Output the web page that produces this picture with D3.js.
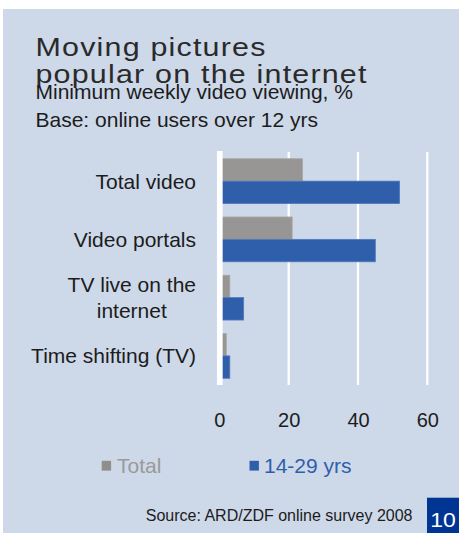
<!DOCTYPE html>
<html>
<head>
<meta charset="utf-8">
<script src="https://cdn.jsdelivr.net/npm/d3@7"></script>
<style>
  html, body { margin: 0; padding: 0; background: #ffffff; }
  svg { display: block; }
  text { font-family: "Liberation Sans", Arial, Helvetica, sans-serif; }
</style>
</head>
<body>
<svg id="chart" width="459" height="533"></svg>
<script>
// Weekly video viewing on the internet, share of online users (%)
const categories = ["Total video", "Video portals", "TV live on the\ninternet", "Time shifting (TV)"];
const seriesNames = ["Total", "14-29 yrs"];
const totalValues = [24, 21, 3, 2];
const youngValues = [52, 45, 7, 3];
const xTicks = [0, 20, 40, 60];

const titleLines = ["Moving pictures", "popular on the internet"];
const subtitleLines = ["Minimum weekly video viewing, %", "Base: online users over 12 yrs"];
const sourceText = "Source: ARD/ZDF online survey 2008";
const pageNumber = "10";

const colors = { "Total": "#979694", "14-29 yrs": "#2f5fab" };
const strokes = { "Total": "#a9a8a6", "14-29 yrs": "#5279bb" };
const legendText = { "Total": "#9a9a9a", "14-29 yrs": "#2f5fab" };

const svg = d3.select("#chart");

// panel background
svg.append("rect").attr("x", 3).attr("y", 9).attr("width", 456).attr("height", 524).attr("fill", "#cdd8e9");

// headings: the title uses a horizontally extended face
const title = svg.append("text").attr("transform", "translate(35.5,0) scale(1.216,1)")
  .attr("fill", "#2a2a2a").style("font-size", "25px").style("letter-spacing", "1px");
title.selectAll("tspan").data(titleLines).join("tspan")
  .attr("x", 0).attr("y", (d, i) => 56 + i * 27).text(d => d);

svg.append("g").selectAll("text").data(subtitleLines).join("text")
  .attr("x", 35.5).attr("y", (d, i) => 99 + i * 28)
  .attr("fill", "#1c1c1c").style("font-size", "21px").text(d => d);

// scales
const x = d3.scaleLinear().domain([0, 60]).range([219.4, 427.3]);
const y = d3.scaleBand().domain(categories).range([152, 385]).padding(0);
const ySub = d3.scaleBand().domain(seriesNames).range([0, y.step()]).paddingInner(0).paddingOuter(0.3);

// gridlines
svg.append("g").selectAll("line").data(xTicks.filter(t => t !== 0)).join("line")
  .attr("x1", d => x(d)).attr("x2", d => x(d)).attr("y1", 152).attr("y2", 385)
  .attr("stroke", "#ffffff").attr("stroke-width", 2.3);

// bars
const rows = categories.map((c, i) => ({ cat: c, values: [
  { key: "Total", value: totalValues[i] },
  { key: "14-29 yrs", value: youngValues[i] }
]}));

const groups = svg.append("g").selectAll("g").data(rows).join("g")
  .attr("transform", d => `translate(0,${y(d.cat)})`);
groups.selectAll("rect").data(d => d.values).join("rect")
  .attr("x", x(0)).attr("y", d => ySub(d.key))
  .attr("width", d => x(d.value) - x(0)).attr("height", ySub.bandwidth())
  .attr("fill", d => colors[d.key]).attr("stroke", d => strokes[d.key]).attr("stroke-width", 0.8);

// value axis line at zero
svg.append("line").attr("x1", x(0) + 0.4).attr("x2", x(0) + 0.4).attr("y1", 151).attr("y2", 385)
  .attr("stroke", "#ffffff").attr("stroke-width", 5.7);

// category labels (right aligned block, lines centred within block)
const labelRight = 196;
const lineH = 25.6;
const labelG = svg.append("g").selectAll("text").data(categories).join("text")
  .attr("fill", "#1c1c1c").style("font-size", "21px").attr("text-anchor", "middle");
labelG.each(function (d) {
  const lines = d.split("\n");
  const t = d3.select(this);
  const spans = t.selectAll("tspan").data(lines).join("tspan").text(l => l);
  let maxW = 0;
  spans.each(function () { maxW = Math.max(maxW, this.getComputedTextLength()); });
  const cx = labelRight - maxW / 2;
  const cy = y(d) + y.bandwidth() / 2;
  const firstBase = cy - (lines.length - 1) * lineH / 2 + 7.6;
  spans.attr("x", cx).attr("y", (l, i) => firstBase + i * lineH);
});

// x axis tick labels
const xAxis = d3.axisBottom(x).tickValues(xTicks).tickSize(0).tickPadding(0).tickFormat(d3.format("d"));
const axG = svg.append("g").attr("transform", "translate(0,412)").call(xAxis);
axG.select(".domain").remove();
axG.selectAll("text").attr("fill", "#1c1c1c").style("font-size", "20px")
  .style("font-family", "'Liberation Sans', Arial, sans-serif").attr("dy", null).attr("y", 15.3);

// legend
const legendItems = [
  { key: "Total", sx: 101.7, tx: 117 },
  { key: "14-29 yrs", sx: 249.5, tx: 264 }
];
const lg = svg.append("g").selectAll("g").data(legendItems).join("g");
lg.append("rect").attr("x", d => d.sx).attr("y", 460.8).attr("width", 9.4).attr("height", 9.8)
  .attr("fill", d => d.key === "Total" ? "#8f8e8c" : colors[d.key]);
lg.append("text").attr("x", d => d.tx).attr("y", 472.7)
  .attr("fill", d => legendText[d.key]).style("font-size", "21px").text(d => d.key);

// source note
svg.append("text").attr("x", 412.5).attr("y", 520.7).attr("text-anchor", "end")
  .attr("fill", "#1c1c1c").style("font-size", "16px").text(sourceText);

// page number box
svg.append("rect").attr("x", 427).attr("y", 497.7).attr("width", 32).attr("height", 35.3).attr("fill", "#003594");
svg.append("text").attr("transform", "translate(443,526.7) scale(1.15,1)").attr("text-anchor", "middle")
  .attr("fill", "#ffffff").style("font-size", "20px").text(pageNumber);
</script>
</body>
</html>
